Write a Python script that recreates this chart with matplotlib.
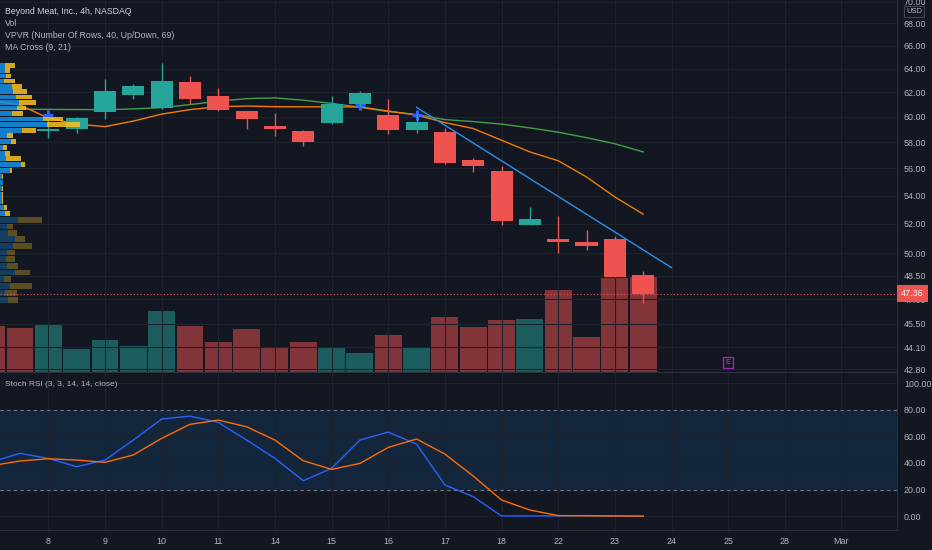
import numpy as np
import matplotlib.pyplot as plt
from matplotlib.ticker import FixedLocator, NullLocator, NullFormatter, FuncFormatter
import matplotlib.transforms as mtransforms

plt.rcParams['font.family'] = ['Liberation Sans Narrow', 'Liberation Sans', 'DejaVu Sans']

BG = '#131722'
TXT = '#b2b5be'
GRID = '#1e222d'
LINE = '#2a2e39'
UP = '#26a69a'
DOWN = '#ef5350'

# --- candles, BYND 4h (bar 1 = 8 Feb, two bars per session) ---
bar_idx = list(range(1, 23))
opens = [58.84, 59.02, 60.40, 61.74, 60.68, 62.85, 61.71, 60.46, 59.26, 58.86, 59.47,
         61.00, 60.11, 58.96, 58.80, 56.67, 55.79, 51.93, 50.96, 50.72, 50.94, 48.55]
highs = [59.73, 59.95, 63.10, 62.68, 64.52, 63.36, 62.37, 60.50, 60.32, 58.94, 61.68,
         62.12, 61.44, 60.30, 59.15, 56.77, 56.17, 53.18, 52.53, 51.54, 51.15, 48.81]
lows = [58.36, 58.70, 59.79, 61.46, 60.62, 61.05, 60.45, 59.04, 58.52, 57.74, 59.45,
        60.78, 58.62, 58.73, 56.35, 55.74, 51.91, 51.90, 50.02, 50.20, 48.40, 46.75]
closes = [59.04, 59.90, 62.07, 62.54, 62.91, 61.41, 60.52, 59.84, 59.02, 58.05, 61.03,
          61.91, 58.94, 59.62, 56.37, 56.15, 52.18, 52.32, 50.74, 50.45, 48.44, 47.36]
last_price = 47.36

# --- volume (thousands), bars -1..22 ---
vol_idx = list(range(-1, 23))
volume = [920, 880, 940, 460, 640, 520, 1220, 920, 600, 860, 500, 600,
          500, 380, 740, 500, 1100, 900, 1040, 1060, 1640, 700, 1880, 1920]
vol_up = [False, False, True, True, True, True, True, False, False, False, False, False,
          True, True, False, True, False, False, False, True, False, False, False, False]

# --- MA Cross (9, 21) ---
ma_idx = list(range(-1, 23))
ma_fast = [61.35, 60.95, 59.90, 59.42, 59.22, 59.66, 60.22, 60.58, 60.82, 60.87, 60.82, 60.81,
           60.81, 60.80, 60.47, 60.14, 59.54, 59.07, 58.15, 57.25, 56.58, 55.36, 53.90, 52.68]
ma_slow = [60.62, 60.62, 60.60, 60.59, 60.58, 60.64, 60.74, 60.99, 61.27, 61.48, 61.54, 61.35,
           61.09, 60.78, 60.42, 60.19, 59.78, 59.62, 59.42, 59.12, 58.78, 58.35, 57.88, 57.25]
cross_idx = [1, 12, 14]
cross_price = [60.14, 60.95, 60.18]

# --- trend line ---
trend_idx = [14, 23]
trend_price = [60.76, 49.04]

# --- VPVR, 40 rows from bottom to top ---
vp_low, vp_high = 46.75, 64.52
vp_up = [8.3, 5, 10, 4, 15, 6.7, 6, 6.7, 13.3, 15, 8.3, 6.7, 18.3,
         5, 4, 1.7, 2, 2, 2.7, 2, 10, 20.7, 6, 5.3, 3.3, 10.7, 7.3, 21.7,
         46.7, 42.7, 11.7, 16.7, 19.3, 16, 13.3, 11.7, 4, 6, 5.3, 4.7]
vp_down = [10, 11.7, 21.7, 6.7, 15, 11.6, 9, 8.3, 18.4, 10, 8.4, 6.6, 23.4,
           5, 3.3, 1, 1.3, 1.3, 0.6, 0.7, 1.7, 4.3, 15, 4.7, 3.4, 5, 5.4, 14.3,
           33.3, 20.6, 11, 9.3, 16.4, 16, 13.4, 10.3, 10.7, 5, 4.7, 10.6]
va_first_row = 13

# --- Stoch RSI ---
k_line = [41, 47.2, 43.5, 37.2, 42.2, 57.2, 73, 75.2, 70.5, 57.2, 43.5, 26.7,
          36, 57.2, 63.2, 54.2, 23.5, 14.7, 0.2, 0.2, 0.3, 0.5, 0.3, 0.0]
d_line = [38, 41.5, 43.2, 42.2, 40.5, 46, 58.5, 69, 72.2, 67.2, 57.2, 41.7,
          35.2, 39.7, 51.7, 58, 46.7, 30.2, 12.2, 4.7, 0.5, 0.3, 0.2, 0.1]

date_idx = [1, 3, 5, 7, 9, 11, 13, 15, 17, 19, 21, 23, 25, 27, 29]
date_labels = ['8', '9', '10', '11', '14', '15', '16', '17', '18', '22', '23', '24', '25', '28', 'Mar']
price_ticks = [70, 68, 66, 64, 62, 60, 58, 56, 54, 52, 50, 48.5, 47, 45.5, 44.1, 42.8]
rsi_ticks = [0, 20, 40, 60, 80, 100]
earn_idx, earn_price = 25, 43.2

W, H = 932, 550
FS_AX = 6.4
FS_LEG = 6.3


def rect(x0, y0, x1, y1):
    return [x0 / W, 1 - y1 / H, (x1 - x0) / W, (y1 - y0) / H]


fig = plt.figure(figsize=(W / 100, H / 100), dpi=100, facecolor=BG)
price_rect = rect(0, 0, 897, 372)

ax_vol = fig.add_axes(price_rect, zorder=0)
ax = fig.add_axes(price_rect, zorder=1, sharex=ax_vol)
ax.patch.set_visible(False)
ax.set_yscale('log')
ax_vp = fig.add_axes(price_rect, zorder=2, sharey=ax)
ax_rsi = fig.add_axes(rect(0, 372, 897, 530), sharex=ax_vol)
ax_rsi.set_facecolor(BG)

# volume
vcols = [UP if u else DOWN for u in vol_up]
ax_vol.bar(vol_idx, volume, width=0.95, color=vcols, alpha=0.5)
ax_vol.set_ylim(0, max(volume) / 0.258)
ax_vol.set_axis_off()

# candles
ccols = [UP if c >= o else DOWN for o, c in zip(opens, closes)]
ax.vlines(bar_idx, lows, highs, colors=ccols, lw=1, zorder=3)
ax.bar(bar_idx, [abs(c - o) for o, c in zip(opens, closes)],
       bottom=[min(o, c) for o, c in zip(opens, closes)],
       width=0.78, color=ccols, zorder=3.5)

ax.plot(ma_idx, ma_slow, color='#43a047', lw=1, zorder=2)
ax.plot(ma_idx, ma_fast, color='#f57c00', lw=1, zorder=2.1)
ax.plot(cross_idx, cross_price, '+', color='#2962ff', ms=7, mew=2.2, zorder=2.5)
ax.plot(trend_idx, trend_price, color='#2f8fe8', lw=1, zorder=4)
ax.axhline(last_price, color=DOWN, ls=(0, (1, 2)), lw=0.8, zorder=1.5)

ax.set_xlim(-0.706, 30.96)
ax.set_ylim(42.65, 70.15)
ax.yaxis.tick_right()
ax.yaxis.set_major_locator(FixedLocator(price_ticks))
ax.yaxis.set_major_formatter(FuncFormatter(lambda v, p: f'{v:.2f}'))
ax.yaxis.set_minor_locator(NullLocator())
ax.yaxis.set_minor_formatter(NullFormatter())
ax.tick_params(axis='y', length=0, pad=5, labelsize=FS_AX, labelcolor=TXT)
ax.tick_params(axis='x', length=0, labelbottom=False)
ax.grid(True, color=GRID, lw=0.8)
for s in ['top', 'left', 'bottom']:
    ax.spines[s].set_visible(False)
ax.spines['right'].set_color(LINE)

# earnings marker
ax.text(earn_idx, earn_price, 'E', color='#b03ee0', fontsize=5.5, ha='center', va='center',
        bbox=dict(boxstyle='square,pad=0.3', fc='none', ec='#9c27b0', lw=1), zorder=5)

# last price label
trans = mtransforms.blended_transform_factory(ax.transAxes, ax.transData)
ax.text(1.0 + 4 / 897, last_price, f'{last_price:.2f}', transform=trans, color='white',
        fontsize=FS_AX, ha='left', va='center', clip_on=False, zorder=10,
        bbox=dict(boxstyle='square,pad=0.45', fc=DOWN, ec='none'))

# volume profile
edges = np.linspace(vp_low, vp_high, len(vp_up) + 1)
heights = np.diff(edges) * 0.86
for r in range(len(vp_up)):
    a = 0.85 if r >= va_first_row else 0.32
    ax_vp.barh(edges[r], vp_up[r], height=heights[r], align='edge', color='#1592e6', alpha=a)
    ax_vp.barh(edges[r], vp_down[r], left=vp_up[r], height=heights[r], align='edge',
               color='#fbc123', alpha=a)
vp_tot = [u + d for u, d in zip(vp_up, vp_down)]
ax_vp.set_xlim(0, max(vp_tot) * 897 / 80)
ax_vp.set_axis_off()

# stoch rsi
ax_rsi.axhspan(20, 80, color='#2196f3', alpha=0.12, lw=0)
for lv in (80, 20):
    ax_rsi.axhline(lv, color='#787b86', ls=(0, (3, 3)), lw=0.8)
ax_rsi.plot(vol_idx, k_line, color='#2962ff', lw=1)
ax_rsi.plot(vol_idx, d_line, color='#ff6d00', lw=1)
ax_rsi.set_ylim(-10.3, 108.3)
ax_rsi.yaxis.tick_right()
ax_rsi.set_yticks(rsi_ticks)
ax_rsi.yaxis.set_major_formatter(FuncFormatter(lambda v, p: f'{v:.2f}'))
ax_rsi.set_xticks(date_idx, date_labels)
ax_rsi.tick_params(axis='both', length=0, labelsize=FS_AX, labelcolor=TXT)
ax_rsi.tick_params(axis='y', pad=5)
ax_rsi.tick_params(axis='x', pad=5)
ax_rsi.grid(True, color=GRID, lw=0.8)
ax_rsi.spines['left'].set_visible(False)
for s in ['top', 'bottom', 'right']:
    ax_rsi.spines[s].set_color(LINE)

# legends
fig.text(5 / W, 1 - 12 / H, 'Beyond Meat, Inc., 4h, NASDAQ', color='#d1d4dc', fontsize=FS_LEG, va='center')
fig.text(5 / W, 1 - 24 / H, 'Vol', color=TXT, fontsize=FS_LEG, va='center')
fig.text(5 / W, 1 - 35.5 / H, 'VPVR (Number Of Rows, 40, Up/Down, 69)', color=TXT, fontsize=FS_LEG, va='center')
fig.text(5 / W, 1 - 47.5 / H, 'MA Cross (9, 21)', color=TXT, fontsize=FS_LEG, va='center')
fig.text(5 / W, 1 - 384 / H, 'Stoch RSI (3, 3, 14, 14, close)', color=TXT, fontsize=6, va='center')
fig.text(914 / W, 1 - 11.5 / H, 'USD', color=TXT, fontsize=5.5, ha='center', va='center',
         bbox=dict(boxstyle='square,pad=0.2', fc=BG, ec='#434651', lw=0.8))

plt.savefig('out.png', dpi=100, facecolor=BG)
